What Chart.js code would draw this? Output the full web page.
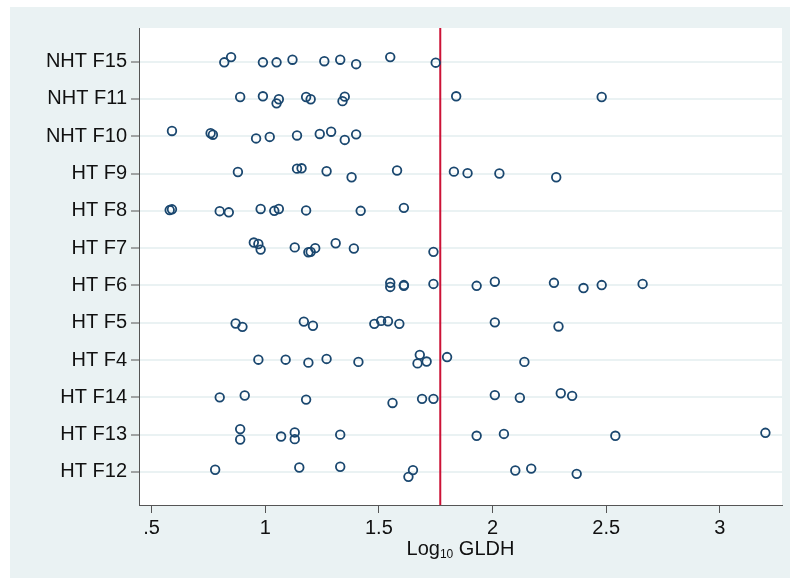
<!DOCTYPE html>
<html lang="en">

<head>
    <meta charset="UTF-8">
    <title>GLDH</title>
    <style>
        body {
            margin: 0;
            background: white;
        }
    </style>
</head>

<body>
    <canvas id="grafico" width="790" height="578"></canvas>

    <script src="https://cdn.jsdelivr.net/npm/chart.js"></script>
    <script>

        // farms, top to bottom
        var fazendas = ['NHT F15', 'NHT F11', 'NHT F10', 'HT F9', 'HT F8', 'HT F7', 'HT F6', 'HT F5', 'HT F4', 'HT F14', 'HT F13', 'HT F12'];

        // log10 GLDH per animal
        var nhtF15 = [0.82, 0.85, 0.99, 1.05, 1.12, 1.26, 1.33, 1.40, 1.55, 1.75];
        var nhtF11 = [0.89, 0.99, 1.06, 1.05, 1.18, 1.20, 1.35, 1.34, 1.84, 2.48];
        var nhtF10 = [0.59, 0.76, 0.77, 0.96, 1.02, 1.14, 1.24, 1.29, 1.35, 1.40];
        var htF9 = [0.88, 1.14, 1.16, 1.27, 1.38, 1.58, 1.83, 1.89, 2.03, 2.28];
        var htF8 = [0.58, 0.59, 0.80, 0.84, 0.98, 1.04, 1.06, 1.18, 1.42, 1.61];
        var htF7 = [0.95, 0.97, 0.98, 1.13, 1.19, 1.20, 1.22, 1.31, 1.39, 1.74];
        var htF6 = [1.55, 1.55, 1.61, 1.61, 1.74, 1.93, 2.01, 2.27, 2.40, 2.48, 2.66];
        var htF5 = [0.87, 0.90, 1.17, 1.21, 1.48, 1.51, 1.54, 1.59, 2.01, 2.29];
        var htF4 = [0.97, 1.09, 1.19, 1.27, 1.41, 1.68, 1.67, 1.71, 1.80, 2.14];
        var htF14 = [0.80, 0.91, 1.18, 1.56, 1.69, 1.74, 2.01, 2.12, 2.30, 2.35];
        var htF13 = [0.89, 0.89, 1.07, 1.13, 1.13, 1.33, 1.93, 2.05, 2.54, 3.20];
        var htF12 = [0.78, 1.15, 1.33, 1.63, 1.65, 2.10, 2.17, 2.37];

        // vertical jitter of each dot (fraction of a row)
        var jitF15 = [-0.02, 0.12, -0.02, -0.02, 0.05, 0.01, 0.05, -0.07, 0.12, -0.03];
        var jitF11 = [0.05, 0.07, -0.01, -0.12, 0.05, -0.01, 0.06, -0.06, 0.07, 0.05];
        var jitF10 = [0.14, 0.08, 0.04, -0.06, -0.02, 0.02, 0.06, 0.12, -0.10, 0.05];
        var jitF9 = [0.04, 0.13, 0.14, 0.06, -0.10, 0.08, 0.05, 0.01, 0, -0.10];
        var jitF8 = [0.02, 0.04, -0.01, -0.04, 0.05, 0, 0.05, 0.01, 0, 0.08];
        var jitF7 = [0.15, 0.11, -0.04, 0.02, -0.11, -0.10, 0, 0.13, -0.01, -0.10];
        var jitF6 = [0.07, -0.04, -0.01, 0.01, 0.04, -0.01, 0.10, 0.07, -0.07, 0.01, 0.04];
        var jitF5 = [-0.02, -0.11, 0.03, -0.08, -0.03, 0.05, 0.04, -0.03, 0.01, -0.10];
        var jitF4 = [0.01, 0.01, -0.07, 0.03, -0.05, 0.14, -0.09, -0.04, 0.08, -0.05];
        var jitF14 = [0, 0.05, -0.06, -0.15, -0.04, -0.04, 0.06, -0.01, 0.11, 0.04];
        var jitF13 = [0.15, -0.13, -0.05, 0.06, -0.12, 0, -0.03, 0.02, -0.03, 0.05];
        var jitF12 = [0.06, 0.12, 0.14, -0.13, 0.05, 0.04, 0.09, -0.05];

        var valores = [nhtF15, nhtF11, nhtF10, htF9, htF8, htF7, htF6, htF5, htF4, htF14, htF13, htF12];
        var jitter = [jitF15, jitF11, jitF10, jitF9, jitF8, jitF7, jitF6, jitF5, jitF4, jitF14, jitF13, jitF12];

        var xTicks = [0.5, 1, 1.5, 2, 2.5, 3];
        var corte = 1.77;

        var pontos = [];
        for (let i = 0; i < fazendas.length; i++) {
            var linha = fazendas.length - i;
            for (let j = 0; j < valores[i].length; j++) {
                pontos.push({ x: valores[i][j], y: linha + jitter[i][j] });
            }
        }

        var fonte = "'Liberation Sans', Arial, sans-serif";
        var fundo = '#eaf2f3';

        const fundoPlugin = {
            id: 'fundo',
            beforeDraw(chart) {
                var ctx = chart.ctx;
                var a = chart.chartArea;
                ctx.save();
                ctx.fillStyle = 'white';
                ctx.fillRect(0, 0, chart.width, chart.height);
                ctx.fillStyle = fundo;
                ctx.fillRect(10, 7, chart.width - 10, chart.height - 7);
                ctx.fillStyle = 'white';
                ctx.fillRect(a.left, a.top, a.right - a.left, a.bottom - a.top);
                ctx.restore();
            }
        };

        // red reference line
        const linhaCorte = {
            id: 'linhaCorte',
            beforeDatasetsDraw(chart) {
                var ctx = chart.ctx;
                var a = chart.chartArea;
                var x = chart.scales.x.getPixelForValue(corte);
                ctx.save();
                ctx.strokeStyle = '#cc1236';
                ctx.lineWidth = 2;
                ctx.beginPath();
                ctx.moveTo(x, a.top);
                ctx.lineTo(x, a.bottom);
                ctx.stroke();
                ctx.restore();
            }
        };

        // axis title with subscript
        const tituloX = {
            id: 'tituloX',
            afterDraw(chart) {
                var ctx = chart.ctx;
                var a = chart.chartArea;
                var base = 555;
                ctx.save();
                ctx.fillStyle = '#111';
                ctx.textBaseline = 'alphabetic';
                ctx.font = '20px ' + fonte;
                var w1 = ctx.measureText('Log').width;
                var w3 = ctx.measureText(' GLDH').width;
                ctx.font = '12px ' + fonte;
                var w2 = ctx.measureText('10').width;
                var x = (a.left + a.right) / 2 - (w1 + w2 + w3) / 2;
                ctx.font = '20px ' + fonte;
                ctx.fillText('Log', x, base);
                ctx.font = '12px ' + fonte;
                ctx.fillText('10', x + w1, base + 3);
                ctx.font = '20px ' + fonte;
                ctx.fillText(' GLDH', x + w1 + w2, base);
                ctx.restore();
            }
        };

        const grafico = document.getElementById('grafico');

        var graficoGLDH = new Chart(grafico, {
            type: 'scatter',
            data: {
                datasets: [{
                    data: pontos,
                    pointStyle: 'circle',
                    pointRadius: 4.3,
                    pointHoverRadius: 4.3,
                    pointBorderWidth: 1.8,
                    borderColor: '#1a476f',
                    backgroundColor: 'rgba(0,0,0,0)'
                }]
            },
            options: {
                responsive: false,
                animation: false,
                devicePixelRatio: 1,
                layout: {
                    padding: { top: 28, right: 8, left: 0, bottom: 0 }
                },
                plugins: {
                    legend: { display: false },
                    tooltip: { enabled: false }
                },
                scales: {
                    x: {
                        type: 'linear',
                        min: 0.445,
                        max: 3.273,
                        afterBuildTicks: function (s) {
                            s.ticks = xTicks.map(function (v) { return { value: v }; });
                        },
                        afterFit: function (s) {
                            s.height = 73;
                        },
                        ticks: {
                            color: '#111',
                            font: { family: fonte, size: 20 },
                            padding: 3,
                            maxRotation: 0,
                            callback: function (v) {
                                return v < 1 ? String(v).replace('0.', '.') : String(v);
                            }
                        },
                        grid: {
                            drawOnChartArea: false,
                            tickLength: 8,
                            tickColor: '#555',
                            tickWidth: 1
                        },
                        border: { display: true, color: '#555', width: 1 }
                    },
                    y: {
                        type: 'linear',
                        min: 0.115,
                        max: 12.9,
                        afterBuildTicks: function (s) {
                            s.ticks = fazendas.map(function (f, i) { return { value: fazendas.length - i }; });
                        },
                        afterFit: function (s) {
                            s.width = 139;
                        },
                        ticks: {
                            color: '#111',
                            font: { family: fonte, size: 20 },
                            padding: 4,
                            callback: function (v) {
                                return fazendas[fazendas.length - v];
                            }
                        },
                        grid: {
                            color: fundo,
                            lineWidth: 2,
                            tickLength: 8,
                            tickColor: '#555',
                            tickWidth: 1
                        },
                        border: { display: true, color: '#555', width: 1 }
                    }
                }
            },
            plugins: [fundoPlugin, linhaCorte, tituloX]
        });
    </script>
</body>

</html>
